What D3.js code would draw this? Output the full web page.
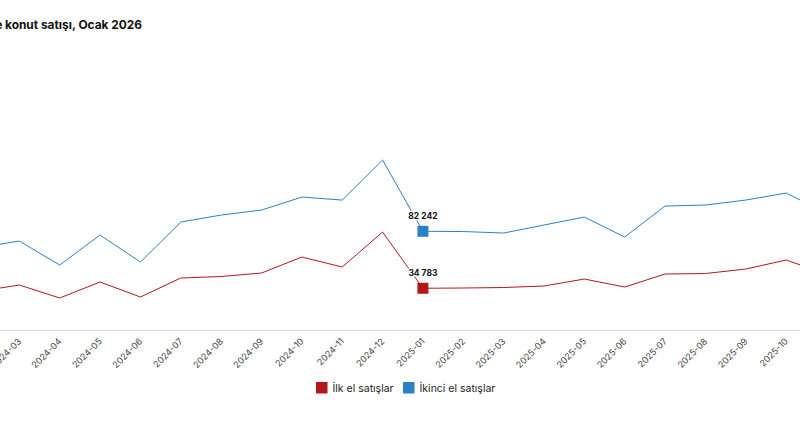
<!DOCTYPE html>
<html>
<head>
<meta charset="utf-8">
<script src="https://cdn.jsdelivr.net/npm/d3@7"></script>
<style>
  html, body { margin: 0; padding: 0; background: #fff; overflow: hidden; }
  svg { display: block; font-family: Inter, "Noto Sans", sans-serif; }
</style>
</head>
<body>
<svg width="800" height="423"></svg>
<script>
const months = ["2024-02", "2024-03", "2024-04", "2024-05", "2024-06", "2024-07", "2024-08",
  "2024-09", "2024-10", "2024-11", "2024-12", "2025-01", "2025-02", "2025-03", "2025-04",
  "2025-05", "2025-06", "2025-07", "2025-08", "2025-09", "2025-10", "2025-11"];

const ilkEl = [32240, 37480, 26660, 39980, 27490, 43320, 44570, 47480, 60810, 52480, 81630,
  34783, 34990, 35400, 36650, 42480, 35820, 46650, 47060, 50810, 58310, 46650];

const ikinciEl = [68640, 74140, 54150, 79140, 56640, 89960, 95800, 99960, 110790, 108290, 141610,
  82242, 82050, 80800, 87470, 94130, 77470, 103290, 104130, 108290, 114120, 97460];

const highlight = "2025-01";
const seriesNames = ["İlk el satışlar", "İkinci el satışlar"];
const colors = ["#b3181d", "#2b80c8"];

const svg = d3.select("svg");

const x = d3.scalePoint()
    .domain(months)
    .range([-21, 826.5]);

const y = d3.scaleLinear()
    .domain([0, 250000])
    .range([330, 30]);

svg.append("text")
    .attr("x", 142)
    .attr("y", 29)
    .attr("text-anchor", "end")
    .attr("font-size", "11.9px")
    .attr("font-weight", "bold")
    .attr("fill", "#111")
    .text("Türkiye'de konut satışı, Ocak 2026");

const axis = svg.append("g")
    .attr("transform", `translate(0,${y(0)})`)
    .call(d3.axisBottom(x).tickSize(0).tickPadding(0));

axis.select(".domain")
    .attr("stroke", "#dcdcdc");

axis.selectAll(".tick text")
    .attr("font-family", "Inter, sans-serif")
    .attr("font-size", "9px")
    .attr("fill", "#444")
    .attr("text-anchor", "end")
    .attr("dy", 0)
    .attr("transform", "translate(2,12) rotate(-45)");

const line = d3.line()
    .x((d, i) => x(months[i]))
    .y(d => y(d));

const series = [ilkEl, ikinciEl];

series.forEach((values, s) => {
    svg.append("path")
        .datum(values)
        .attr("fill", "none")
        .attr("stroke", colors[s])
        .attr("stroke-width", 1)
        .attr("d", line);
});

const hi = months.indexOf(highlight);
series.forEach((values, s) => {
    const cx = x(months[hi]);
    const cy = y(values[hi]);
    svg.append("rect")
        .attr("x", cx - 5.5)
        .attr("y", cy - 5.5)
        .attr("width", 11)
        .attr("height", 11)
        .attr("fill", colors[s]);
    svg.append("text")
        .attr("x", cx)
        .attr("y", cy - 12)
        .attr("text-anchor", "middle")
        .attr("font-size", "8.5px")
        .attr("font-weight", "bold")
        .attr("fill", "#111")
        .attr("stroke", "#fff")
        .attr("stroke-width", 2.5)
        .attr("paint-order", "stroke")
        .text(d3.format(",")(values[hi]).replace(/,/g, " "));
});

const legend = svg.append("g")
    .attr("transform", "translate(316,382)");

const legendX = [0, 87];
seriesNames.forEach((name, s) => {
    const g = legend.append("g").attr("transform", `translate(${legendX[s]},0)`);
    g.append("rect")
        .attr("width", 11.5)
        .attr("height", 11.5)
        .attr("fill", colors[s]);
    g.append("text")
        .attr("x", 16.5)
        .attr("y", 10)
        .attr("font-size", "10.5px")
        .attr("fill", "#222")
        .text(name);
});
</script>
</body>
</html>
